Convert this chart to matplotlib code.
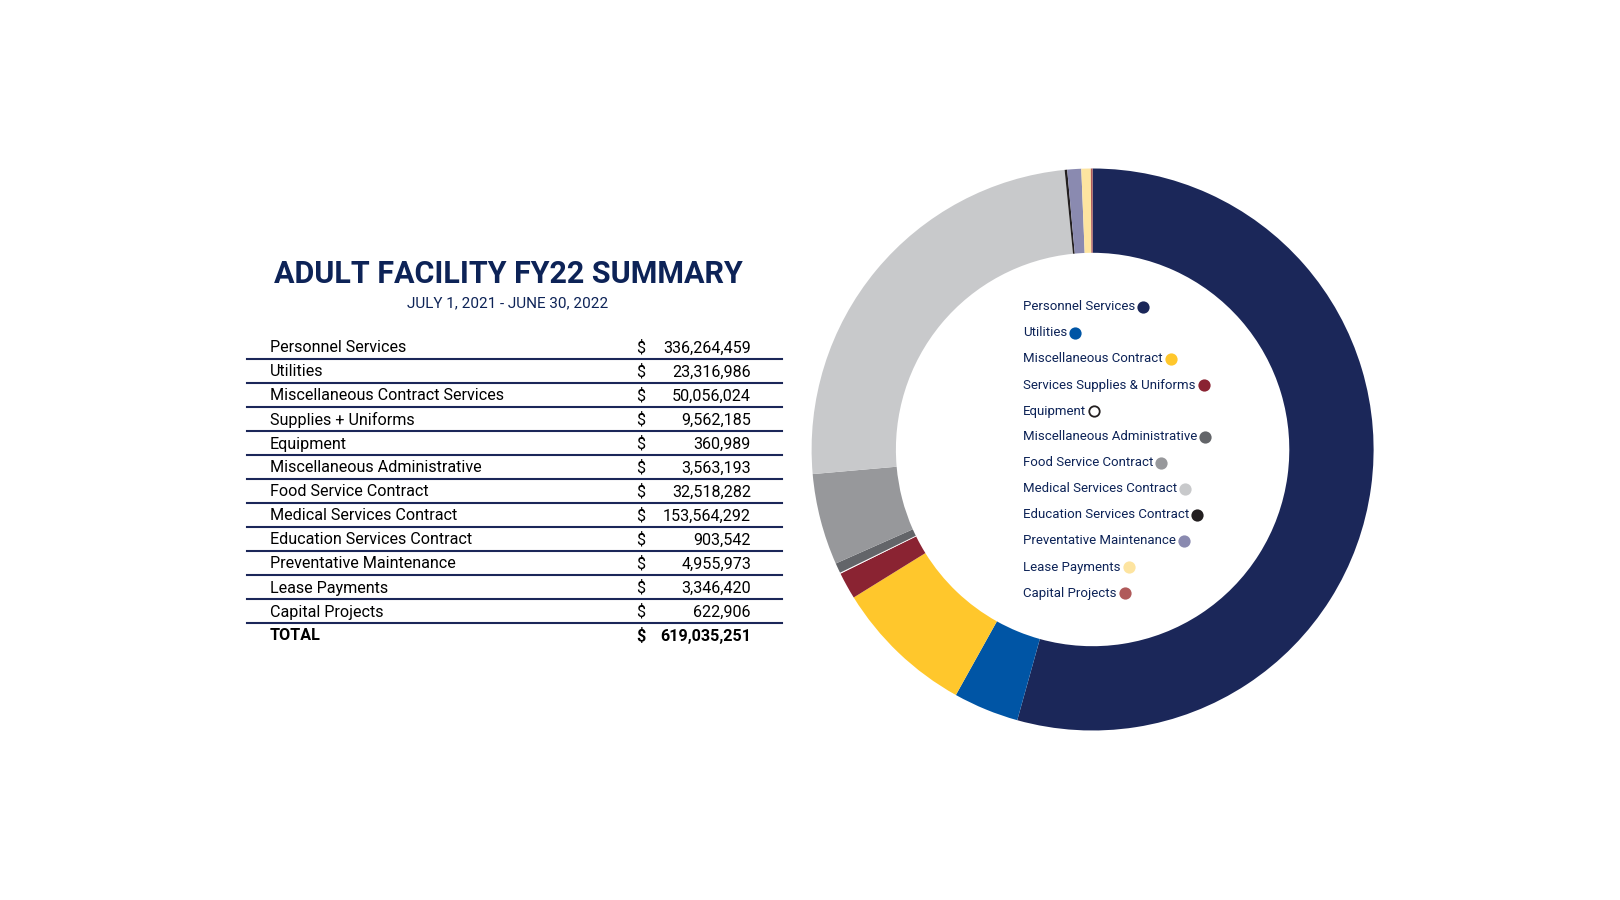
import matplotlib.pyplot as plt

plt.rcParams['font.family'] = ['Roboto', 'DejaVu Sans']

# table data
items = ["Personnel Services", "Utilities", "Miscellaneous Contract Services",
         "Supplies + Uniforms", "Equipment", "Miscellaneous Administrative",
         "Food Service Contract", "Medical Services Contract",
         "Education Services Contract", "Preventative Maintenance",
         "Lease Payments", "Capital Projects"]
amounts = [336264459, 23316986, 50056024, 9562185, 360989, 3563193,
           32518282, 153564292, 903542, 4955973, 3346420, 622906]
total = 619035251

# legend labels on the donut
legend_labels = ["Personnel Services", "Utilities", "Miscellaneous Contract",
                 "Services Supplies & Uniforms", "Equipment",
                 "Miscellaneous Administrative", "Food Service Contract",
                 "Medical Services Contract", "Education Services Contract",
                 "Preventative Maintenance", "Lease Payments", "Capital Projects"]
colors = ["#1b2759", "#0055a5", "#ffc72c", "#8a2332", "#ffffff", "#636569",
          "#97989b", "#c8c9cb", "#231f20", "#8a8ab0", "#fde4a0", "#b05a5a"]

navy = "#0d2357"

fig = plt.figure(figsize=(16.2, 9), dpi=100)
bg = fig.add_axes([0, 0, 1, 1])
bg.set_xlim(0, 1620)
bg.set_ylim(900, 0)
bg.axis("off")

# title
bg.text(508, 274, "ADULT FACILITY FY22 SUMMARY", ha="center", va="center",
        fontsize=22, fontweight="bold", color=navy)
bg.text(508, 303, "JULY 1, 2021 - JUNE 30, 2022", ha="center", va="center",
        fontsize=11, color=navy)

# table
y0 = 348
dy = 24.0
for i, (name, val) in enumerate(zip(items, amounts)):
    y = y0 + i * dy
    bg.text(270, y, name, ha="left", va="center", fontsize=11.6, color="black")
    bg.text(641, y, "$", ha="center", va="center", fontsize=11.6, color="black")
    bg.text(751, y, f"{val:,}", ha="right", va="center", fontsize=11.6, color="black")
    bg.plot([247, 782], [y + 10.5, y + 10.5], color="#1b2759", lw=1.5)
yt = y0 + len(items) * dy
bg.text(270, yt, "TOTAL", ha="left", va="center", fontsize=11.6, fontweight="bold")
bg.text(641, yt, "$", ha="center", va="center", fontsize=11.6, fontweight="bold")
bg.text(751, yt, f"{total:,}", ha="right", va="center", fontsize=11.6, fontweight="bold")

# donut
cx, cy, r = 1092.6, 449.5, 281
ax = fig.add_axes([(cx - r) / 1620, (900 - cy - r) / 900, 2 * r / 1620, 2 * r / 900])
ax.pie(amounts, colors=colors, startangle=90, counterclock=False,
       radius=1, wedgeprops=dict(width=0.30, edgecolor="none"))
ax.set_xlim(-1, 1)
ax.set_ylim(-1, 1)
ax.axis("off")

# legend inside the donut
ly0 = 307
ldy = 26.0
fig.canvas.draw()
renderer = fig.canvas.get_renderer()
for i, (lab, c) in enumerate(zip(legend_labels, colors)):
    y = ly0 + i * ldy
    t = bg.text(1023, y, lab, ha="left", va="center", fontsize=9.5, color=navy)
    xend = t.get_window_extent(renderer=renderer).x1
    edge = "#231f20" if c == "#ffffff" else c
    bg.plot([xend + 8], [y - 0.5], marker="o", markersize=7.5, color=c,
            markeredgecolor=edge, markeredgewidth=1.3)

fig.savefig("out.png", dpi=100)
